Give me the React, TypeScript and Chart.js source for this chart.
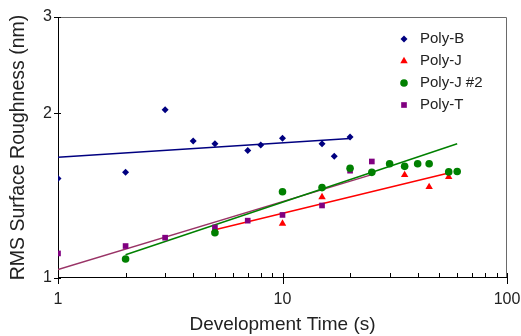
import React, { useEffect, useRef } from 'react';
import { Chart, registerables } from 'chart.js';
import { drawPoint } from 'chart.js/helpers';

Chart.register(...registerables);

// ---- data ----
const polyBTime = [1, 2, 3, 4, 5, 7, 8, 10, 15, 17, 20];
const polyBRms = [1.52, 1.56, 2.03, 1.78, 1.76, 1.71, 1.75, 1.8, 1.76, 1.67, 1.81];

const polyJTime = [5, 10, 15, 35, 45, 55];
const polyJRms = [1.225, 1.257, 1.406, 1.543, 1.467, 1.53];

const polyJ2Time = [2, 5, 10, 15, 20, 25, 30, 35, 40, 45, 55, 60];
const polyJ2Rms = [1.083, 1.21, 1.438, 1.463, 1.587, 1.56, 1.618, 1.6, 1.618, 1.618, 1.563, 1.566];

const polyTTime = [1, 2, 3, 5, 7, 10, 15, 20, 25];
const polyTRms = [1.109, 1.144, 1.185, 1.237, 1.273, 1.304, 1.357, 1.571, 1.633];

// power-law trend lines (end points)
const polyBFitTime = [1, 20];
const polyBFitRms = [1.662, 1.798];
const polyJFitTime = [5, 55];
const polyJFitRms = [1.225, 1.556];
const polyJ2FitTime = [2, 60];
const polyJ2FitRms = [1.103, 1.76];
const polyTFitTime = [1, 25];
const polyTFitRms = [1.036, 1.545];

const xTickValues = [1, 10, 100];
const xMinorValues = [2, 3, 4, 5, 6, 7, 8, 9, 20, 30, 40, 50, 60, 70, 80, 90];
const yTickValues = [1, 2, 3];

const seriesNames = ['Poly-B', 'Poly-J', 'Poly-J #2', 'Poly-T'];
const seriesColors = ['#000080', '#ff0000', '#008000', '#800080'];
const fitColors = ['#000080', '#ff0000', '#008000', '#993366'];
const seriesStyles = ['rectRot', 'triangle', 'circle', 'rect'];
const seriesRadii = [3.5, 4.3, 3.8, 4];

const FONT = "'Liberation Sans', Arial, Helvetica, sans-serif";
const TEXT = '#222';

const zip = (xs: number[], ys: number[]) => xs.map((x, i) => ({ x, y: ys[i] }));

const frame = {
  id: 'frame',
  beforeDatasetsDraw(chart: any) {
    const { ctx, chartArea: a, scales } = chart;
    const xs = scales.x;
    const ys = scales.y;
    ctx.save();
    ctx.lineWidth = 1;
    // top + right (gray)
    ctx.strokeStyle = '#6a6a6a';
    ctx.beginPath();
    ctx.moveTo(a.left, a.top + 0.5);
    ctx.lineTo(a.right - 0.5, a.top + 0.5);
    ctx.lineTo(a.right - 0.5, a.bottom);
    ctx.stroke();
    // left + bottom (black)
    ctx.strokeStyle = '#000';
    ctx.beginPath();
    ctx.moveTo(a.left + 0.5, a.top);
    ctx.lineTo(a.left + 0.5, a.bottom - 0.5);
    ctx.lineTo(a.right, a.bottom - 0.5);
    ctx.stroke();
    // x ticks
    ctx.beginPath();
    xTickValues.forEach((v) => {
      const px = Math.round(xs.getPixelForValue(v)) + 0.5;
      ctx.moveTo(px, a.bottom - 5);
      ctx.lineTo(px, a.bottom + 6);
    });
    xMinorValues.forEach((v) => {
      const px = Math.round(xs.getPixelForValue(v)) + 0.5;
      ctx.moveTo(px, a.bottom - 5);
      ctx.lineTo(px, a.bottom);
    });
    // y ticks
    yTickValues.forEach((v) => {
      const py = Math.round(ys.getPixelForValue(v)) + 0.5;
      ctx.moveTo(a.left - 4, py);
      ctx.lineTo(a.left + 3, py);
    });
    ctx.stroke();
    ctx.restore();
  },
};

const legendInside = {
  id: 'legendInside',
  afterDraw(chart: any) {
    const { ctx, chartArea: a } = chart;
    ctx.save();
    seriesNames.forEach((name, i) => {
      const y = a.top + 22 + i * 22;
      const mx = a.right - 103;
      ctx.fillStyle = seriesColors[i];
      drawPoint(ctx, { pointStyle: seriesStyles[i], radius: seriesRadii[i], rotation: 0, borderWidth: 0 } as any, mx, y);
      ctx.fillStyle = TEXT;
      ctx.font = `15px ${FONT}`;
      ctx.textAlign = 'left';
      ctx.textBaseline = 'middle';
      ctx.fillText(name, mx + 16, y);
    });
    ctx.restore();
  },
};

export default function App() {
  const ref = useRef<HTMLCanvasElement | null>(null);

  useEffect(() => {
    if (!ref.current) return;
    const pts = [
      zip(polyBTime, polyBRms),
      zip(polyJTime, polyJRms),
      zip(polyJ2Time, polyJ2Rms),
      zip(polyTTime, polyTRms),
    ];
    const fits = [
      zip(polyBFitTime, polyBFitRms),
      zip(polyJFitTime, polyJFitRms),
      zip(polyJ2FitTime, polyJ2FitRms),
      zip(polyTFitTime, polyTFitRms),
    ];
    const drawOrder = [1, 4, 2, 3];
    const datasets: any[] = [];
    fits.forEach((d, i) => {
      datasets.push({
        label: seriesNames[i] + ' fit',
        data: d,
        showLine: true,
        borderColor: fitColors[i],
        borderWidth: 1.5,
        pointRadius: 0,
        fill: false,
        order: 20 + i,
      });
    });
    pts.forEach((d, i) => {
      datasets.push({
        label: seriesNames[i],
        data: d,
        showLine: false,
        backgroundColor: seriesColors[i],
        borderColor: seriesColors[i],
        pointStyle: seriesStyles[i],
        pointRadius: seriesRadii[i],
        pointBorderWidth: 0,
        order: drawOrder[i],
      });
    });

    const chart = new Chart(ref.current, {
      type: 'scatter',
      data: { datasets },
      options: {
        animation: false,
        responsive: false,
        maintainAspectRatio: false,
        layout: { padding: { top: 17, right: 14, left: 0, bottom: 0 } },
        plugins: {
          legend: { display: false },
          tooltip: { enabled: false },
        },
        scales: {
          x: {
            type: 'logarithmic',
            min: 1,
            max: 100,
            afterBuildTicks: (s: any) => {
              s.ticks = xTickValues.map((v) => ({ value: v }));
            },
            afterFit: (s: any) => {
              s.height = 58;
              s.paddingLeft = 0;
              s.paddingRight = 0;
            },
            grid: { display: false, drawTicks: false },
            border: { display: false },
            ticks: {
              padding: 12,
              maxRotation: 0,
              autoSkip: false,
              color: TEXT,
              font: { family: FONT, size: 16 },
              callback: (v: any) => String(v),
            },
            title: {
              display: true,
              text: 'Development Time (s)',
              color: TEXT,
              font: { family: FONT, size: 19 },
              padding: { top: 0, bottom: 0 },
            },
          },
          y: {
            type: 'logarithmic',
            min: 1,
            max: 3,
            afterBuildTicks: (s: any) => {
              s.ticks = yTickValues.map((v) => ({ value: v }));
            },
            afterFit: (s: any) => {
              s.width = 58;
              s.paddingTop = 0;
              s.paddingBottom = 0;
            },
            grid: { display: false, drawTicks: false },
            border: { display: false },
            ticks: {
              padding: 6,
              autoSkip: false,
              color: TEXT,
              font: { family: FONT, size: 16 },
              callback: (v: any) => String(v),
            },
            title: {
              display: true,
              text: 'RMS Surface Roughness (nm)',
              color: TEXT,
              font: { family: FONT, size: 19.5 },
              padding: { top: 7, bottom: 0 },
            },
          },
        },
      },
      plugins: [frame, legendInside],
    });
    return () => chart.destroy();
  }, []);

  return (
    <div style={{ position: 'absolute', left: 0, top: 0, width: 521, height: 336, background: '#fff' }}>
      <canvas ref={ref} width={521} height={336} style={{ display: 'block', width: 521, height: 336 }} />
    </div>
  );
}
